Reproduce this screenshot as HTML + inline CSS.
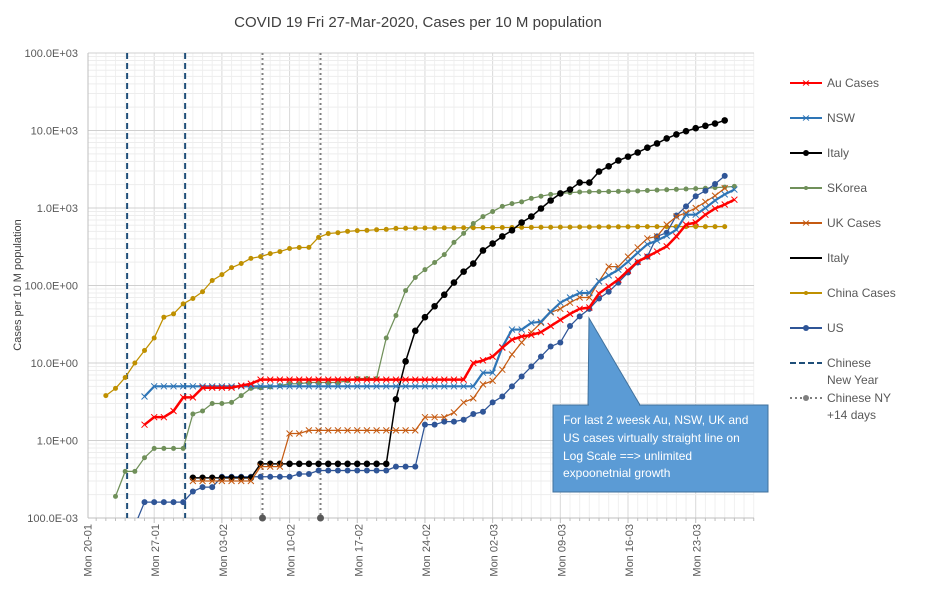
<!DOCTYPE html>
<html><head><meta charset="utf-8"><style>
body{margin:0;background:#fff;font-family:"Liberation Sans",sans-serif}
svg text{font-family:"Liberation Sans",sans-serif}
</style></head><body>
<svg id="c" width="927" height="606" viewBox="0 0 927 606" xmlns="http://www.w3.org/2000/svg">
<rect width="927" height="606" fill="#fff"/>
<text x="418" y="27" font-size="15" text-anchor="middle" fill="#404040">COVID 19  Fri 27-Mar-2020, Cases per 10 M population</text>
<text transform="translate(21,285) rotate(-90)" font-size="11" text-anchor="middle" fill="#404040">Cases per 10 M population</text>
<g id="grid"></g><g id="axes"></g><g id="series"></g>
<g>
<polygon points="588,405 589,318 640,405" fill="#5b9bd5" stroke="#41719c" stroke-width="1"/>
<rect x="553" y="405" width="215" height="87" fill="#5b9bd5" stroke="#41719c" stroke-width="1"/>
<rect x="589" y="404" width="50" height="3" fill="#5b9bd5"/>
<text x="563" y="424" font-size="12" fill="#fff">For last 2 weesk Au, NSW, UK and</text>
<text x="563" y="442" font-size="12" fill="#fff">US cases virtually straight line on</text>
<text x="563" y="460" font-size="12" fill="#fff">Log Scale ==&gt; unlimited</text>
<text x="563" y="477" font-size="12" fill="#fff">expoonetnial growth</text>
</g>
<g id="legend"></g>
</svg>
<script>
const xTickLabels=["Mon 20-01","Mon 27-01","Mon 03-02","Mon 10-02","Mon 17-02","Mon 24-02","Mon 02-03","Mon 09-03","Mon 16-03","Mon 23-03"];
const yTickLabels=["100.0E-03","1.0E+00","10.0E+00","100.0E+00","1.0E+03","10.0E+03","100.0E+03"];
const chinaStart=2;
const chinaVals=[3.8,4.7,6.5,10,14.5,21,39,43,58,68,83,116,138,170,192,224,236,258,274,300,309,310,418,468,480,500,510,515,525,530,545,548,550,552,553,554,555,556,557,558,559,560,561,562,563,564,565,566,567,568,569,570,571,572,573,574,575,575,575,575,575,575,575,575,575];
const italyStart=11;
const italyVals=[0.33,0.33,0.33,0.33,0.33,0.33,0.33,0.5,0.5,0.5,0.5,0.5,0.5,0.5,0.5,0.5,0.5,0.5,0.5,0.5,0.5,3.4,10.5,26,39,54,76,109,151,192,283,348,430,515,650,775,985,1250,1540,1730,2130,2130,2950,3450,4100,4600,5200,6000,6800,7900,8900,9800,10700,11500,12300,13500];
const skoreaStart=3;
const skoreaVals=[0.19,0.4,0.4,0.6,0.79,0.79,0.79,0.79,2.2,2.4,3.0,3.0,3.1,3.8,4.7,4.8,4.9,5.1,5.4,5.4,5.6,5.6,5.6,5.6,5.9,6.3,6.3,6.3,21,41,86,127,160,198,250,360,470,630,775,900,1050,1140,1200,1330,1420,1500,1540,1580,1610,1620,1625,1630,1640,1650,1660,1680,1700,1720,1740,1760,1780,1800,1830,1860,1900];
const auStart=6;
const auVals=[1.6,2.0,2.0,2.4,3.6,3.6,4.8,4.8,4.8,4.8,5.1,5.4,6.1,6.1,6.1,6.1,6.1,6.1,6.1,6.1,6.1,6.1,6.1,6.1,6.1,6.1,6.1,6.1,6.1,6.1,6.1,6.1,6.1,6.1,10,10.8,12.1,15.8,20,22,23,25,30,36,43,50,52,79,97,119,156,203,236,274,320,430,610,650,820,985,1110,1280];
const nswStart=6;
const nswVals=[3.7,5,5,5,5,5,5,5,5,5,5,5,5,5,5,5,5,5,5,5,5,5,5,5,5,5,5,5,5,5,5,5,5,5,5,7.5,7.5,16,27,27,33,34,46,60,70,80,80,113,135,160,203,265,340,380,440,525,820,820,1000,1250,1500,1730];
const ukStart=11;
const ukVals=[0.3,0.3,0.3,0.3,0.3,0.3,0.3,0.46,0.46,0.46,1.23,1.23,1.35,1.35,1.35,1.35,1.35,1.35,1.35,1.35,1.35,1.35,1.35,1.35,2.0,2.0,2.0,2.3,3.1,3.5,5.3,5.9,8.2,12.9,18.4,25,33,45,50,60,70,70,113,175,175,236,310,405,430,610,775,870,1000,1200,1440,1800];
const usStart=5;
const usVals=[0.08,0.16,0.16,0.16,0.16,0.16,0.22,0.25,0.25,0.34,0.34,0.34,0.34,0.34,0.34,0.34,0.34,0.37,0.37,0.41,0.41,0.41,0.41,0.41,0.41,0.41,0.41,0.46,0.46,0.46,1.6,1.6,1.75,1.75,1.85,2.2,2.35,3.1,3.7,5.0,6.7,9,12.1,16.3,18.4,30,40,50,68,83,109,147,198,236,430,480,800,1050,1420,1670,2040,2600];
const cnyDays=[4.2,10.2];
const cny14Days=[18.2,24.2];

const NS="http://www.w3.org/2000/svg";
const L=88,R=754,T=53,B=518;
const X0=86.5,DX=9.67;
function xs(d){return X0+d*DX;}
function ys(v){return B-(Math.log10(v)+1)*(B-T)/6;}
function mk(tag,attrs,parent){const e=document.createElementNS(NS,tag);for(const k in attrs)e.setAttribute(k,attrs[k]);parent.appendChild(e);return e;}
const grid=document.getElementById('grid'),axes=document.getElementById('axes'),ser=document.getElementById('series'),leg=document.getElementById('legend');
// vertical minor grid (daily)
for(let d=0;X0+d*DX<=R;d++){const x=xs(d);if(x<L)continue;
 const ln=mk('line',{x1:x,x2:x,y1:T,y2:B,stroke:(d%7===0)?'#d9d9d9':'#f0f0f0','stroke-width':1},grid);
 }
// horizontal grid
for(let e=-1;e<5;e++){for(let m=2;m<10;m++){const y=ys(m*Math.pow(10,e));
 const ln=mk('line',{x1:L,x2:R,y1:y,y2:y,stroke:'#ededed','stroke-width':1},grid);
 }}
yTickLabels.forEach((t,i)=>{const y=ys(Math.pow(10,i-1));
 const ln=mk('line',{x1:L,x2:R,y1:y,y2:y,stroke:'#d0d0d0','stroke-width':1},grid);
 
 const tx=mk('text',{x:78,y:y+4,'font-size':11,'text-anchor':'end',fill:'#595959'},axes);tx.textContent=t;
 });
const ax=mk('line',{x1:L,x2:R,y1:B,y2:B,stroke:'#bfbfbf','stroke-width':1},axes);

const ay=mk('line',{x1:L,x2:L,y1:T,y2:B,stroke:'#bfbfbf','stroke-width':1},axes);

for(let d=0;X0+d*DX<=R;d++){const x=xs(d);if(x<L)continue;
 const tk=mk('line',{x1:x,x2:x,y1:B,y2:B+(d%7===0?5:3),stroke:'#bfbfbf'},axes);
 }
xTickLabels.forEach((t,i)=>{const x=xs(i*7)+1;
 const tx=mk('text',{transform:`translate(${x+4},524) rotate(-90)`,'font-size':11,'text-anchor':'end',fill:'#595959'},axes);tx.textContent=t;
 });
// clip
const defs=mk('defs',{},ser);const cp=mk('clipPath',{id:'pc'},defs);mk('rect',{x:L,y:T,width:R-L,height:B-T},cp);
const sg=mk('g',{'clip-path':'url(#pc)'},ser);
cnyDays.forEach(d=>{const ln=mk('line',{x1:xs(d),x2:xs(d),y1:T,y2:B,stroke:'#1f4e79','stroke-width':2,'stroke-dasharray':'6,4'},sg);
 });
cny14Days.forEach(d=>{const ln=mk('line',{x1:xs(d),x2:xs(d),y1:T,y2:B,stroke:'#7f7f7f','stroke-width':2,'stroke-dasharray':'2,3'},sg);
 
 const c=mk('circle',{cx:xs(d),cy:B,r:3.5,fill:'#595959'},ser);
 });
function series(name,start,vals,color,w,marker){
 const g=mk('g',{},sg);
 const pts=vals.map((v,i)=>[xs(start+i),ys(v)]);
 const p=mk('polyline',{points:pts.map(p=>p.join(',')).join(' '),fill:'none',stroke:color,'stroke-width':w,'stroke-linejoin':'round'},g);
 
 pts.forEach(([x,y])=>{let m;
  if(marker==='x'){m=mk('path',{d:`M${x-3},${y-3}L${x+3},${y+3}M${x-3},${y+3}L${x+3},${y-3}`,stroke:color,'stroke-width':1,fill:'none'},g);}
  else{m=mk('circle',{cx:x,cy:y,r:marker,fill:color},g);}
  });}
series('china',chinaStart,chinaVals,'#bf9000',1.25,2.5);
series('skorea',skoreaStart,skoreaVals,'#70905a',1.25,2.5);
series('us',usStart,usVals,'#2f5597',1.25,3);
series('italy',italyStart,italyVals,'#000',1.5,3.3);
series('uk',ukStart,ukVals,'#c55a11',1.25,'x');
series('nsw',nswStart,nswVals,'#2e75b6',2.2,'x');
series('au',auStart,auVals,'#ff0000',2.5,'x');
// legend
const legItems=[["Au Cases","#ff0000","x",83],["NSW","#2e75b6","x",118],["Italy","#000","dot",153],["SKorea","#70905a","sdot",188],["UK Cases","#c55a11","x",223],["Italy","#000","none",258],["China Cases","#bf9000","sdot",293],["US","#2f5597","dot",328]];
legItems.forEach(([t,c,m,y])=>{const g=mk('g',{},leg);
 mk('line',{x1:790,x2:822,y1:y,y2:y,stroke:c,'stroke-width':2},g);
 if(m==='x')mk('path',{d:`M803,${y-2.5}L809,${y+2.5}M803,${y+2.5}L809,${y-2.5}`,stroke:c,'stroke-width':1},g);
 if(m==='dot')mk('circle',{cx:806,cy:y,r:3,fill:c},g);
 if(m==='sdot')mk('circle',{cx:806,cy:y,r:2,fill:c},g);
 const tx=mk('text',{x:827,y:y+4,'font-size':12,fill:'#595959'},g);tx.textContent=t;});
{const g=mk('g',{},leg);
 mk('line',{x1:790,x2:822,y1:363,y2:363,stroke:'#1f4e79','stroke-width':2,'stroke-dasharray':'6,3'},g);
 let a=mk('text',{x:827,y:367,'font-size':12,fill:'#595959'},g);a.textContent='Chinese';
 a=mk('text',{x:827,y:384,'font-size':12,fill:'#595959'},g);a.textContent='New Year';}
{const g=mk('g',{},leg);
 mk('line',{x1:790,x2:822,y1:398,y2:398,stroke:'#7f7f7f','stroke-width':2,'stroke-dasharray':'2,3'},g);
 mk('circle',{cx:806,cy:398,r:3,fill:'#7f7f7f'},g);
 let a=mk('text',{x:827,y:402,'font-size':12,fill:'#595959'},g);a.textContent='Chinese NY';
 a=mk('text',{x:827,y:419,'font-size':12,fill:'#595959'},g);a.textContent='+14 days';}
</script>
</body></html>
